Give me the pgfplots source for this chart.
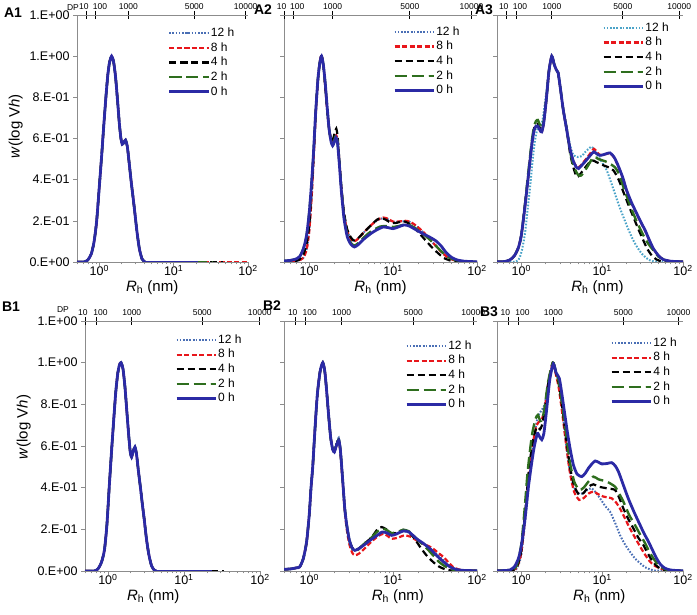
\documentclass[border=0pt]{standalone}
\usepackage{pgfplots}
\pgfplotsset{compat=1.18}
\usepackage{pgfplotstable}
\usepackage{fontspec}
\setmainfont{Liberation Sans}
\definecolor{cD}{HTML}{4A6FB5}
\definecolor{cT}{HTML}{4BA3C8}
\definecolor{cR}{HTML}{E8161B}
\definecolor{cG}{HTML}{2E6E1E}
\definecolor{cB}{HTML}{2B2AA5}
\definecolor{axgray}{HTML}{8C8C8C}

\pgfplotstableread{
x y
0.5 0
0.62 0
0.7 0.01
0.78 0.04
0.85 0.1
0.92 0.2
1.0 0.37
1.07 0.51
1.15 0.67
1.23 0.81
1.3 0.91
1.37 0.97
1.46 1.0
1.55 0.975
1.65 0.9
1.76 0.78
1.86 0.67
1.95 0.6
2.03 0.572
2.13 0.58
2.25 0.592
2.38 0.56
2.52 0.48
2.68 0.39
2.85 0.31
3.0 0.24
3.2 0.15
3.45 0.065
3.75 0.015
4.1 0
}\Apeak

\pgfplotstableread{
x y
0.5 0
0.66 0
0.74 0.01
0.82 0.04
0.9 0.1
0.97 0.22
1.04 0.4
1.11 0.56
1.19 0.72
1.27 0.86
1.35 0.95
1.42 0.99
1.49 1.0
1.58 0.97
1.68 0.88
1.78 0.76
1.88 0.65
1.97 0.57
2.05 0.547
2.15 0.575
2.27 0.595
2.38 0.56
2.52 0.48
2.68 0.4
2.84 0.32
3.0 0.25
3.2 0.16
3.45 0.08
3.75 0.025
4.1 0.003
4.4 0
}\Bpeak

\tikzset{
  sXII/.style={color=#1, line width=2pt, dash pattern=on 1.6pt off 1.6pt, smooth, tension=0.4},
  sVIII/.style={cR, line width=2.2pt, dash pattern=on 5pt off 2.5pt, smooth, tension=0.4},
  sIV/.style={black, line width=2.2pt, dash pattern=on 7pt off 4pt, smooth, tension=0.4},
  sII/.style={cG, line width=2.4pt, dash pattern=on 12pt off 5pt, smooth, tension=0.4},
  sO/.style={cB, line width=2.8pt, smooth, tension=0.4},
}
\pgfplotsset{
  myRh/.style={scale only axis, ymin=0, ymax=1.2,
    axis x line*=bottom, axis y line*=left,
    axis line style={axgray, line width=0.8pt},
    tick align=outside, tick style={axgray, line width=0.6pt},
    major tick length=4pt, minor tick length=2.5pt,
    xtick={1,10,100},
    xticklabels={10\textsuperscript{0},10\textsuperscript{1},10\textsuperscript{2}},
    minor xtick={0.5,0.6,0.7,0.8,0.9,2,3,4,5,6,7,8,9,20,30,40,50,60,70,80,90},
    ytick={0,0.2,0.4,0.6,0.8,1.0,1.2},
    yticklabels={},
    ticklabel style={font=\fontsize{12.5}{13}\selectfont},
    xticklabel style={inner sep=1pt, yshift=2pt},
    xlabel={\textit{R}\textsubscript{h} (nm)},
    label style={font=\fontsize{15}{16}\selectfont},
    legend style={draw=none, fill=none, anchor=north west, inner sep=0pt,
      font=\fontsize{12}{12}\selectfont,
      nodes={inner sep=1pt, text height=9pt, text depth=2.5pt}, row sep=1.2pt},
    legend cell align=left,
    legend image post style={xscale=2.3},
  },
  myYlab/.style={yticklabels={0.E+00,2.E-01,4.E-01,6.E-01,8.E-01,1.E+00,1.E+00},
    ylabel={\textit{w}(log V\textit{h})}},
  myDP/.style={scale only axis, ymin=0, ymax=1.2,
    axis x line*=top, hide y axis,
    axis line style={axgray, line width=0.8pt},
    tick align=center, major tick length=8pt, tick style={black, line width=1pt},
    minor xtick={},
    xticklabels={\hspace*{-6pt}10,\hspace*{8pt}100,1000,5000,10000},
    xticklabel style={font=\fontsize{8.5}{9}\selectfont, inner sep=1pt},
  },
}

\begin{document}
\begin{tikzpicture}
\useasboundingbox (0pt,0pt) rectangle (697pt,615pt);

% ---------------- A1
\begin{axis}[myRh, myYlab, xmode=log, xmin=0.5, xmax=100, anchor=south west, at={(77pt,353pt)}, width=171pt, height=247pt,
  xlabel style={at={(ticklabel cs:0.44)}},
  ylabel style={at={(ticklabel cs:0.55)}},
  legend style={at={(rel axis cs:0.53,0.955)}}]
\addplot[sXII=cD] table {\Apeak};
\addplot[sVIII] table {\Apeak};
\addplot[sIV] table {\Apeak};
\addplot[sII] table {\Apeak};
\addplot[sO] table {\Apeak};
\addplot[sXII=cD, forget plot] coordinates {(4,0) (20,0)};
\addplot[sVIII, forget plot] coordinates {(4,0) (100,0)};
\addplot[sIV, forget plot] coordinates {(4,0) (46,0)};
\addplot[sII, forget plot] coordinates {(4,0) (33,0)};
\addplot[sO, forget plot] coordinates {(4,0) (21,0)};
\legend{12 h,8 h,4 h,2 h,0 h}
\end{axis}
\begin{axis}[myDP, xmode=log, xmin=0.5, xmax=100, anchor=south west, at={(77pt,353pt)}, width=171pt, height=247pt,
  xtick={0.68,0.9,2.45,18.9,93}]
\end{axis}

% ---------------- A2
\begin{axis}[myRh, xmode=log, xmin=0.5, xmax=100, anchor=south west, at={(284pt,353pt)}, width=193pt, height=247pt,
  xlabel style={at={(ticklabel cs:0.5)}},
  legend style={at={(rel axis cs:0.565,0.96)}}]
\addplot[sXII=cD] coordinates {(0.5,0.003) (0.65,0.004) (0.75,0.008) (0.85,0.02) (0.93,0.06) (1.0,0.15) (1.07,0.32) (1.14,0.54) (1.21,0.76) (1.29,0.92) (1.36,0.99) (1.41,1.0) (1.48,0.95) (1.56,0.84) (1.65,0.72) (1.75,0.63) (1.85,0.585) (1.93,0.59) (2.02,0.6) (2.1,0.61) (2.18,0.59) (2.28,0.49) (2.42,0.35) (2.6,0.23) (2.85,0.15) (3.15,0.112) (3.4,0.1) (3.75,0.11) (4.5,0.145) (5.5,0.18) (6.5,0.203) (7.6,0.213) (8.7,0.207) (10,0.195) (12,0.196) (14,0.198) (16,0.193) (19,0.173) (23,0.143) (27,0.112) (32,0.08) (38,0.047) (45,0.022) (55,0.007) (70,0.002) (100,0)};
\addplot[sVIII] coordinates {(0.5,0.003) (0.65,0.004) (0.75,0.008) (0.85,0.02) (0.93,0.06) (1.0,0.15) (1.07,0.32) (1.14,0.54) (1.21,0.76) (1.29,0.92) (1.36,0.99) (1.41,1.0) (1.48,0.95) (1.56,0.84) (1.65,0.72) (1.75,0.63) (1.85,0.585) (1.93,0.59) (2.02,0.6) (2.1,0.615) (2.18,0.59) (2.28,0.49) (2.42,0.35) (2.6,0.23) (2.85,0.15) (3.15,0.112) (3.4,0.1) (3.75,0.11) (4.5,0.145) (5.5,0.18) (6.5,0.205) (7.6,0.216) (8.7,0.21) (10,0.196) (12,0.197) (14,0.2) (16,0.195) (19,0.175) (23,0.145) (27,0.113) (32,0.08) (38,0.047) (45,0.022) (55,0.007) (70,0.002) (100,0)};
\addplot[sIV] coordinates {(0.5,0.003) (0.65,0.004) (0.75,0.01) (0.85,0.035) (0.93,0.09) (1.0,0.18) (1.07,0.36) (1.14,0.56) (1.21,0.77) (1.29,0.92) (1.36,0.99) (1.41,1.0) (1.48,0.95) (1.56,0.84) (1.65,0.72) (1.75,0.63) (1.85,0.59) (1.93,0.6) (2.02,0.63) (2.1,0.648) (2.18,0.61) (2.28,0.5) (2.42,0.36) (2.6,0.24) (2.85,0.155) (3.15,0.118) (3.4,0.105) (3.75,0.112) (4.5,0.145) (5.5,0.18) (6.4,0.205) (7.2,0.214) (8.2,0.205) (9.5,0.19) (11,0.19) (13,0.198) (15,0.19) (18,0.165) (21,0.135) (25,0.1) (30,0.065) (35,0.04) (40,0.02) (48,0.007) (60,0.002) (100,0)};
\addplot[sII] coordinates {(0.5,0.005) (0.6,0.008) (0.7,0.015) (0.78,0.03) (0.86,0.07) (0.93,0.13) (1.0,0.24) (1.06,0.37) (1.12,0.52) (1.19,0.72) (1.27,0.89) (1.34,0.97) (1.4,1.0) (1.47,0.96) (1.55,0.87) (1.63,0.76) (1.72,0.65) (1.82,0.585) (1.9,0.57) (1.98,0.59) (2.08,0.615) (2.17,0.59) (2.28,0.49) (2.42,0.35) (2.6,0.22) (2.85,0.13) (3.15,0.092) (3.45,0.08) (3.8,0.09) (4.5,0.12) (5.5,0.15) (7,0.172) (8.5,0.175) (10,0.17) (12,0.176) (14,0.183) (16,0.178) (19,0.16) (23,0.135) (28,0.105) (33,0.075) (38,0.05) (45,0.025) (55,0.01) (70,0.003) (100,0)};
\addplot[sO] coordinates {(0.5,0.005) (0.6,0.008) (0.7,0.015) (0.78,0.03) (0.86,0.07) (0.93,0.13) (1.0,0.24) (1.06,0.37) (1.12,0.52) (1.19,0.72) (1.27,0.89) (1.34,0.97) (1.4,1.0) (1.47,0.96) (1.55,0.87) (1.63,0.76) (1.72,0.65) (1.82,0.585) (1.9,0.565) (1.98,0.58) (2.08,0.605) (2.17,0.58) (2.28,0.48) (2.42,0.34) (2.6,0.21) (2.85,0.12) (3.15,0.085) (3.45,0.073) (3.8,0.083) (4.5,0.112) (5.5,0.14) (6.5,0.158) (7.6,0.17) (8.7,0.167) (10,0.162) (11.5,0.17) (13.5,0.18) (15.5,0.175) (19,0.155) (23,0.136) (27.5,0.12) (32,0.104) (37,0.08) (43,0.045) (50,0.022) (58,0.01) (70,0.004) (85,0.002) (100,0.001)};
\legend{12 h,8 h,4 h,2 h,0 h}
\end{axis}
\begin{axis}[myDP, xmode=log, xmin=0.5, xmax=100, anchor=south west, at={(284pt,353pt)}, width=193pt, height=247pt,
  xtick={0.51,0.645,1.9,15.8,86}]
\end{axis}

% ---------------- A3
\begin{axis}[myRh, xmode=log, xmin=0.5, xmax=100, anchor=south west, at={(497pt,353pt)}, width=186pt, height=247pt,
  xlabel style={at={(ticklabel cs:0.54)}},
  legend style={at={(rel axis cs:0.565,0.976)}}]
\addplot[sXII=cT] coordinates {(0.5,0) (0.85,0.001) (0.95,0.02) (1.02,0.06) (1.11,0.14) (1.2,0.26) (1.28,0.36) (1.36,0.47) (1.44,0.56) (1.52,0.62) (1.6,0.65) (1.67,0.656) (1.75,0.66) (1.85,0.7) (2.0,0.8) (2.2,0.93) (2.38,1.0) (2.55,0.96) (2.7,0.935) (2.85,0.92) (3.05,0.84) (3.3,0.74) (3.65,0.65) (4.0,0.57) (4.4,0.52) (5.0,0.51) (5.6,0.515) (6.2,0.535) (6.8,0.55) (7.43,0.56) (8.2,0.54) (9.4,0.5) (10.3,0.475) (11.4,0.445) (12.8,0.39) (14.4,0.332) (16.3,0.27) (18.3,0.219) (21,0.16) (24.3,0.105) (27.5,0.068) (31,0.04) (35,0.02) (39,0.008) (45,0.002) (55,0.001) (100,0.001)};
\addplot[sVIII] coordinates {(0.5,0.001) (0.62,0.002) (0.72,0.01) (0.82,0.03) (0.92,0.07) (1.0,0.13) (1.11,0.27) (1.2,0.39) (1.28,0.49) (1.36,0.58) (1.44,0.64) (1.52,0.66) (1.6,0.66) (1.7,0.64) (1.79,0.632) (1.9,0.68) (2.05,0.8) (2.2,0.93) (2.38,1.0) (2.55,0.96) (2.7,0.935) (2.85,0.92) (3.05,0.84) (3.3,0.74) (3.65,0.64) (4.0,0.55) (4.4,0.49) (4.8,0.465) (5.1,0.46) (5.6,0.475) (6.45,0.505) (7.2,0.53) (7.9,0.55) (8.6,0.535) (9.4,0.52) (10.5,0.522) (12.5,0.528) (14,0.508) (15.5,0.473) (18,0.408) (20,0.348) (23,0.288) (26.8,0.233) (30,0.193) (34,0.152) (38,0.108) (43,0.064) (50,0.03) (57,0.012) (70,0.004) (84,0.002) (100,0.001)};
\addplot[sIV] coordinates {(0.5,0.001) (0.62,0.002) (0.72,0.01) (0.82,0.03) (0.92,0.07) (1.0,0.13) (1.11,0.28) (1.2,0.4) (1.28,0.5) (1.36,0.59) (1.44,0.65) (1.52,0.668) (1.6,0.672) (1.7,0.65) (1.79,0.64) (1.9,0.68) (2.05,0.8) (2.2,0.93) (2.38,1.0) (2.55,0.96) (2.7,0.935) (2.85,0.92) (3.05,0.84) (3.3,0.74) (3.65,0.64) (4.0,0.53) (4.4,0.46) (4.85,0.413) (5.3,0.425) (6.2,0.46) (7.4,0.494) (8.5,0.485) (10.35,0.47) (12,0.46) (13.8,0.445) (16,0.4) (18.3,0.34) (21,0.28) (24.3,0.219) (28,0.16) (32.3,0.105) (36,0.065) (41,0.032) (47,0.012) (52,0.005) (60,0.001) (100,0.001)};
\addplot[sII] coordinates {(0.5,0.001) (0.62,0.002) (0.72,0.01) (0.82,0.03) (0.92,0.07) (1.0,0.13) (1.11,0.28) (1.2,0.41) (1.28,0.51) (1.36,0.6) (1.44,0.66) (1.52,0.685) (1.6,0.69) (1.7,0.665) (1.79,0.65) (1.9,0.69) (2.05,0.8) (2.2,0.93) (2.38,1.0) (2.55,0.96) (2.7,0.935) (2.85,0.92) (3.05,0.84) (3.3,0.74) (3.65,0.645) (4.0,0.54) (4.4,0.47) (5.0,0.425) (5.5,0.42) (6.5,0.46) (7.8,0.51) (9,0.5) (11.4,0.486) (14.4,0.46) (16.5,0.42) (18.3,0.364) (21,0.3) (24.3,0.235) (28,0.18) (32.3,0.13) (37,0.09) (43,0.057) (50,0.025) (55,0.016) (65,0.004) (100,0.001)};
\addplot[sO] coordinates {(0.5,0.001) (0.62,0.002) (0.72,0.01) (0.82,0.03) (0.92,0.07) (1.0,0.13) (1.11,0.27) (1.2,0.39) (1.28,0.49) (1.36,0.58) (1.44,0.64) (1.52,0.66) (1.6,0.66) (1.7,0.64) (1.79,0.632) (1.9,0.68) (2.05,0.8) (2.2,0.93) (2.38,1.0) (2.55,0.96) (2.7,0.935) (2.85,0.92) (3.05,0.84) (3.3,0.74) (3.65,0.64) (4.0,0.55) (4.4,0.49) (4.8,0.46) (5.1,0.454) (5.6,0.47) (6.45,0.497) (7.2,0.52) (7.9,0.535) (8.6,0.525) (9.4,0.518) (10.5,0.522) (12.5,0.53) (14,0.51) (15.5,0.475) (18,0.41) (20,0.35) (23,0.29) (26.8,0.235) (30,0.195) (34,0.154) (38,0.11) (43,0.065) (50,0.03) (57,0.012) (70,0.004) (84,0.002) (100,0.001)};
\legend{12 h,8 h,4 h,2 h,0 h}
\end{axis}
\begin{axis}[myDP, xmode=log, xmin=0.5, xmax=100, anchor=south west, at={(497pt,353pt)}, width=186pt, height=247pt,
  xtick={0.66,0.86,2.38,18,90}]
\end{axis}

% ---------------- B1
\begin{axis}[myRh, myYlab, xmode=log, xmin=0.5, xmax=100, anchor=south west, at={(85pt,44pt)}, width=175pt, height=250pt,
  xlabel style={at={(ticklabel cs:0.39)}},
  ylabel style={at={(ticklabel cs:0.576)}},
  legend style={at={(rel axis cs:0.514,0.952)}}]
\addplot[sXII=cD] table {\Bpeak};
\addplot[sVIII] table {\Bpeak};
\addplot[sIV] table {\Bpeak};
\addplot[sII] table {\Bpeak};
\addplot[sO] table {\Bpeak};
\addplot[sXII=cD, forget plot] coordinates {(4.3,0) (20,0)};
\addplot[sVIII, forget plot] coordinates {(4.3,0) (26,0)};
\addplot[sIV, forget plot] coordinates {(4.3,0) (33,0)};
\addplot[sII, forget plot] coordinates {(4.3,0) (20,0)};
\addplot[sO, forget plot] coordinates {(4.3,0) (23,0)};
\legend{12 h,8 h,4 h,2 h,0 h}
\end{axis}
\begin{axis}[myDP, xmode=log, xmin=0.5, xmax=100, anchor=south west, at={(85pt,44pt)}, width=175pt, height=250pt,
  xtick={0.515,0.71,2.06,17.4,99}]
\end{axis}

% ---------------- B2
\begin{axis}[myRh, xmode=log, xmin=0.5, xmax=100, anchor=south west, at={(284pt,44pt)}, width=193pt, height=250pt,
  xlabel style={at={(ticklabel cs:0.59)}},
  legend style={at={(rel axis cs:0.627,0.928)}}]
\addplot[sXII=cD] coordinates {(0.5,0.008) (0.6,0.01) (0.7,0.015) (0.77,0.02) (0.85,0.06) (0.93,0.14) (1.0,0.27) (1.05,0.4) (1.1,0.5) (1.17,0.68) (1.25,0.85) (1.35,0.96) (1.45,1.0) (1.53,0.96) (1.6,0.88) (1.7,0.75) (1.8,0.645) (1.9,0.59) (1.99,0.58) (2.1,0.61) (2.25,0.64) (2.35,0.59) (2.5,0.45) (2.65,0.31) (2.8,0.225) (3.0,0.155) (3.25,0.112) (3.5,0.1) (3.9,0.108) (4.5,0.125) (5.3,0.147) (6.3,0.168) (7.4,0.187) (8.4,0.183) (9.6,0.172) (11,0.178) (13.2,0.19) (15.5,0.185) (19,0.155) (23,0.132) (27.5,0.107) (32,0.085) (36,0.068) (41,0.045) (48,0.02) (60,0.005) (100,0.001)};
\addplot[sVIII] coordinates {(0.5,0.008) (0.6,0.01) (0.7,0.015) (0.77,0.02) (0.85,0.06) (0.93,0.14) (1.0,0.27) (1.05,0.4) (1.1,0.5) (1.17,0.68) (1.25,0.85) (1.35,0.96) (1.45,1.0) (1.53,0.96) (1.6,0.88) (1.7,0.75) (1.8,0.64) (1.9,0.585) (1.99,0.573) (2.1,0.6) (2.25,0.625) (2.35,0.57) (2.5,0.43) (2.65,0.29) (2.8,0.2) (3.0,0.13) (3.25,0.088) (3.5,0.075) (3.9,0.083) (4.5,0.105) (5.5,0.14) (6.5,0.165) (7.6,0.179) (8.6,0.168) (9.6,0.155) (11.5,0.16) (13.5,0.171) (16,0.165) (19,0.147) (23,0.13) (27,0.118) (30,0.107) (35,0.085) (40,0.067) (46,0.04) (52,0.019) (60,0.008) (75,0.002) (100,0.001)};
\addplot[sIV] coordinates {(0.5,0.008) (0.6,0.01) (0.7,0.015) (0.77,0.02) (0.85,0.06) (0.93,0.14) (1.0,0.27) (1.05,0.4) (1.1,0.5) (1.17,0.68) (1.25,0.85) (1.35,0.96) (1.45,1.0) (1.53,0.96) (1.6,0.88) (1.7,0.75) (1.8,0.64) (1.9,0.585) (1.99,0.573) (2.1,0.605) (2.25,0.63) (2.35,0.58) (2.5,0.44) (2.65,0.3) (2.8,0.22) (3.0,0.15) (3.25,0.112) (3.5,0.1) (3.9,0.108) (4.5,0.13) (5.5,0.16) (6.5,0.2) (7.3,0.211) (8.3,0.2) (9.6,0.18) (11.5,0.185) (13.2,0.198) (15.5,0.185) (18,0.155) (21,0.115) (25,0.075) (30,0.043) (35,0.022) (40,0.011) (48,0.003) (60,0.001) (100,0.001)};
\addplot[sII] coordinates {(0.5,0.008) (0.6,0.01) (0.7,0.015) (0.77,0.02) (0.85,0.06) (0.93,0.14) (1.0,0.27) (1.05,0.4) (1.1,0.5) (1.17,0.68) (1.25,0.85) (1.35,0.96) (1.45,1.0) (1.53,0.96) (1.6,0.88) (1.7,0.75) (1.8,0.64) (1.9,0.585) (1.99,0.573) (2.1,0.605) (2.25,0.63) (2.35,0.58) (2.5,0.44) (2.65,0.3) (2.8,0.22) (3.0,0.148) (3.25,0.108) (3.5,0.095) (3.9,0.105) (4.5,0.13) (5.5,0.16) (6.5,0.19) (7.6,0.203) (8.6,0.194) (9.6,0.182) (11.5,0.188) (13.2,0.198) (15.5,0.19) (19,0.155) (21,0.139) (25,0.11) (30,0.075) (35,0.045) (40,0.027) (48,0.01) (60,0.002) (100,0.001)};
\addplot[sO] coordinates {(0.5,0.008) (0.6,0.01) (0.7,0.015) (0.77,0.02) (0.85,0.06) (0.93,0.14) (1.0,0.27) (1.05,0.4) (1.1,0.5) (1.17,0.68) (1.25,0.85) (1.35,0.96) (1.45,1.0) (1.53,0.96) (1.6,0.88) (1.7,0.75) (1.8,0.64) (1.9,0.585) (1.99,0.571) (2.1,0.6) (2.25,0.627) (2.35,0.58) (2.5,0.44) (2.65,0.3) (2.8,0.22) (3.0,0.15) (3.25,0.11) (3.5,0.099) (3.9,0.107) (4.5,0.125) (5.3,0.147) (6.3,0.168) (7.4,0.187) (8.4,0.183) (9.6,0.171) (11,0.178) (13.2,0.192) (15.5,0.187) (19,0.155) (23,0.132) (27.5,0.107) (32,0.08) (36,0.06) (41,0.04) (47.5,0.02) (56,0.008) (68,0.003) (100,0.001)};
\legend{12 h,8 h,4 h,2 h,0 h}
\end{axis}
\begin{axis}[myDP, xmode=log, xmin=0.5, xmax=100, anchor=south west, at={(284pt,44pt)}, width=193pt, height=250pt,
  xtick={0.69,0.91,2.43,17.4,90}]
\end{axis}

% ---------------- B3
\begin{axis}[myRh, xmode=log, xmin=0.5, xmax=100, anchor=south west, at={(497pt,44pt)}, width=186pt, height=250pt,
  xlabel style={at={(ticklabel cs:0.55)}},
  legend style={at={(rel axis cs:0.608,0.94)}}]
\addplot[sXII=cD] coordinates {(0.5,0.001) (0.8,0.001) (0.9,0.02) (1.0,0.08) (1.16,0.3) (1.3,0.5) (1.45,0.65) (1.6,0.74) (1.79,0.773) (1.95,0.8) (2.15,0.9) (2.45,1.0) (2.65,0.96) (2.9,0.9) (3.2,0.78) (3.6,0.6) (4.0,0.477) (4.4,0.41) (4.85,0.38) (5.3,0.37) (5.9,0.375) (6.6,0.39) (7.4,0.397) (8.2,0.38) (9.4,0.349) (11,0.31) (12.5,0.285) (14.5,0.23) (16.6,0.173) (19,0.13) (22,0.093) (25.5,0.06) (29.5,0.037) (34,0.018) (39,0.008) (45,0.002) (55,0.001) (100,0.001)};
\addplot[sVIII] coordinates {(0.5,0.001) (0.8,0.005) (0.9,0.025) (1.0,0.09) (1.12,0.27) (1.25,0.47) (1.4,0.62) (1.55,0.7) (1.7,0.72) (1.8,0.73) (1.95,0.78) (2.15,0.9) (2.45,1.0) (2.65,0.95) (2.9,0.88) (3.2,0.76) (3.6,0.6) (4.0,0.47) (4.5,0.38) (5.2,0.341) (5.9,0.35) (6.8,0.372) (7.8,0.381) (9,0.368) (10.4,0.357) (13.1,0.349) (14.8,0.33) (16.6,0.3) (19,0.255) (22,0.205) (25.5,0.16) (29.5,0.117) (34,0.078) (39,0.045) (45,0.024) (52,0.013) (60,0.005) (75,0.001) (100,0.001)};
\addplot[sIV] coordinates {(0.5,0.001) (0.8,0.005) (0.9,0.03) (1.0,0.1) (1.12,0.29) (1.25,0.5) (1.4,0.63) (1.55,0.69) (1.7,0.68) (1.8,0.7) (1.95,0.77) (2.15,0.9) (2.45,1.0) (2.65,0.96) (2.9,0.9) (3.2,0.79) (3.6,0.63) (4.0,0.5) (4.5,0.41) (5.2,0.365) (5.9,0.375) (6.8,0.405) (7.8,0.416) (9,0.405) (11.4,0.397) (14.4,0.389) (16.3,0.35) (18.3,0.3) (21,0.25) (24.3,0.205) (28,0.16) (32.3,0.125) (36,0.09) (41,0.053) (47,0.025) (52,0.013) (60,0.004) (75,0.001) (100,0.001)};
\addplot[sII] coordinates {(0.5,0.001) (0.8,0.008) (0.9,0.04) (1.0,0.13) (1.1,0.3) (1.2,0.48) (1.35,0.65) (1.5,0.73) (1.6,0.749) (1.72,0.72) (1.82,0.73) (1.95,0.79) (2.15,0.91) (2.45,1.0) (2.65,0.965) (2.9,0.91) (3.2,0.8) (3.6,0.65) (4.0,0.52) (4.5,0.43) (5.2,0.389) (5.9,0.4) (6.8,0.43) (7.8,0.453) (9,0.44) (11.4,0.429) (14.4,0.405) (16.3,0.37) (18.3,0.333) (21.5,0.27) (25.5,0.22) (30,0.17) (34,0.133) (38,0.095) (43,0.061) (49,0.03) (55,0.016) (65,0.004) (100,0.001)};
\addplot[sO] coordinates {(0.5,0.001) (0.62,0.002) (0.72,0.005) (0.82,0.02) (0.92,0.06) (1.0,0.12) (1.11,0.25) (1.22,0.4) (1.35,0.525) (1.45,0.6) (1.58,0.66) (1.68,0.645) (1.79,0.63) (1.9,0.66) (2.05,0.77) (2.25,0.92) (2.49,0.994) (2.7,0.95) (2.95,0.925) (3.2,0.84) (3.65,0.685) (4.0,0.59) (4.4,0.51) (4.9,0.465) (5.6,0.453) (6.2,0.47) (6.75,0.493) (7.5,0.515) (8.2,0.528) (9.0,0.522) (9.9,0.514) (11.5,0.516) (13.1,0.52) (14.5,0.505) (15.9,0.477) (18,0.42) (21,0.349) (25,0.28) (29.5,0.22) (33,0.18) (37.4,0.141) (42,0.1) (47,0.061) (53,0.03) (60,0.013) (70,0.005) (85,0.002) (100,0.001)};
\legend{12 h,8 h,4 h,2 h,0 h}
\end{axis}
\begin{axis}[myDP, xmode=log, xmin=0.5, xmax=100, anchor=south west, at={(497pt,44pt)}, width=186pt, height=250pt,
  xtick={0.69,0.92,2.49,18.3,88}]
\end{axis}

% panel labels and DP
\node[font=\fontsize{14}{14}\selectfont\bfseries] at (13pt,602.5pt) {A1};
\node[font=\fontsize{14}{14}\selectfont\bfseries] at (263pt,605pt) {A2};
\node[font=\fontsize{14}{14}\selectfont\bfseries] at (484pt,605pt) {A3};
\node[font=\fontsize{14}{14}\selectfont\bfseries] at (11pt,308pt) {B1};
\node[font=\fontsize{14}{14}\selectfont\bfseries] at (272pt,309pt) {B2};
\node[font=\fontsize{14}{14}\selectfont\bfseries] at (489pt,303pt) {B3};
\node[font=\fontsize{8.5}{9}\selectfont] at (73pt,607pt) {DP};
\node[font=\fontsize{8.5}{9}\selectfont] at (63pt,305pt) {DP};
\end{tikzpicture}
\end{document}
